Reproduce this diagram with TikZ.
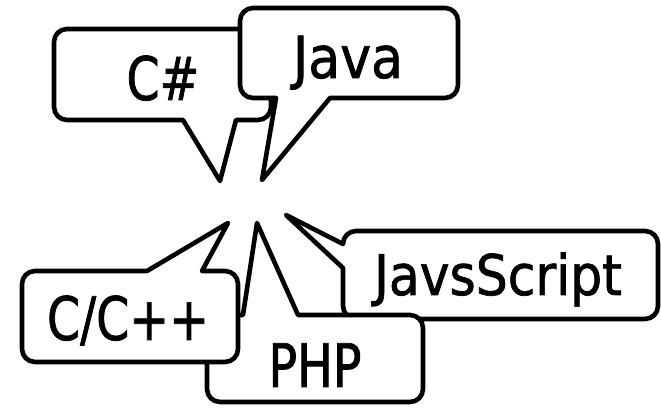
\documentclass[tikz,border=0pt]{standalone}
\usepackage{fontspec}
\setmainfont[RawFeature={embolden=1.2}]{DejaVu Sans Condensed}
\newfontfamily\narrowfont[RawFeature={embolden=1.2},FakeStretch=0.88]{DejaVu Sans Condensed}
\begin{document}
\begin{tikzpicture}[x=1pt,y=1pt,
  bubble/.style={draw=black,fill=white,line width=4.6pt,line join=round},
  label/.style={anchor=base,inner sep=0pt,font=\fontsize{58}{60}\selectfont},
  narrowlabel/.style={label,font=\narrowfont\fontsize{60}{62}\selectfont},
  smalllabel/.style={label,font=\fontsize{56}{58}\selectfont}]
\useasboundingbox (0,0) rectangle (661,411);
% C#
\draw[bubble] (67,291) -- (183,291) -- (220,230) -- (236,291) -- (258,291)
  arc(270:360:13pt) -- (271,369) arc(0:90:13pt) -- (67,382)
  arc(90:180:13pt) -- (54,304) arc(180:270:13pt) -- cycle;
\node[narrowlabel] (cs) at (163,311) {C\#};
% Java
\draw[bubble] (253,313) -- (276,313) -- (262,231) -- (330,313) -- (445,313)
  arc(270:360:13pt) -- (458,390) arc(0:90:13pt) -- (253,403)
  arc(90:180:13pt) -- (240,326) arc(180:270:13pt) -- cycle;
\node[label] (java) at (348,333) {Java};
% JavsScript
\draw[bubble] (356,92) -- (645,92) arc(270:360:13pt) -- (658,167)
  arc(0:90:13pt) -- (356,180) arc(90:180:13pt) -- (286,196) -- (343,143)
  -- (343,105) arc(180:270:13pt) -- cycle;
\node[smalllabel] (js) at (498,116) {JavsScript};
% PHP
\draw[bubble] (220,9) -- (410,9) arc(270:360:13pt) -- (423,83)
  arc(0:90:13pt) -- (298,96) -- (257,188) -- (243,96) -- (220,96)
  arc(90:180:13pt) -- (207,22) arc(180:270:13pt) -- cycle;
\node[narrowlabel] (php) at (315,24) {PHP};
% C/C++
\draw[bubble] (35,49) -- (225,49) arc(270:360:13pt) -- (238,127)
  arc(0:90:13pt) -- (202,140) -- (228,188) -- (147,140) -- (35,140)
  arc(90:180:13pt) -- (22,62) arc(180:270:13pt) -- cycle;
\node[narrowlabel] (cpp) at (128,71) {C/C++};
\end{tikzpicture}
\end{document}
